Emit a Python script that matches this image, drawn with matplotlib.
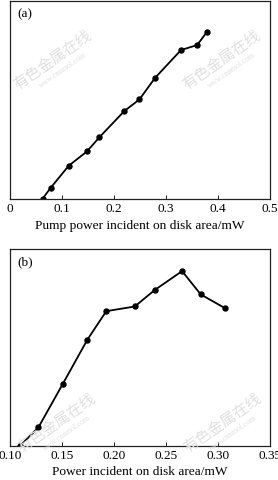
import numpy as np
import matplotlib
matplotlib.use('Agg')
import matplotlib.pyplot as plt

plt.rcParams['font.family'] = ['Liberation Serif', 'DejaVu Serif']

# panel (a)
a_x = [0.063, 0.078, 0.113, 0.148, 0.172, 0.220, 0.249, 0.279, 0.329, 0.360, 0.379]
a_y = [0.2, 3.4, 10.1, 14.4, 18.7, 26.6, 30.1, 36.6, 45.0, 46.5, 50.5]
a_ticks = [0, 0.1, 0.2, 0.3, 0.4, 0.5]
a_labels = ['0', '0.1', '0.2', '0.3', '0.4', '0.5']

# panel (b)
b_x = [0.1097, 0.1274, 0.1506, 0.1745, 0.1926, 0.220, 0.239, 0.2655, 0.2835, 0.3068]
b_y = [0.0, 5.6, 18.5, 31.9, 40.4, 41.8, 46.7, 52.4, 45.4, 41.3]
b_ticks = [0.10, 0.15, 0.20, 0.25, 0.30, 0.35]
b_labels = ['0.10', '0.15', '0.20', '0.25', '0.30', '0.35']

fig = plt.figure(figsize=(2.78, 4.80), dpi=100)

ax1 = fig.add_axes([0.036, 0.585, 0.935, 0.413])
ax1.plot(a_x, a_y, color='black', lw=1.3, marker='o', ms=3.6)
ax1.set_xlim(0, 0.5)
ax1.set_ylim(0, 59.8)
ax1.set_xticks(a_ticks)
ax1.set_xticklabels(a_labels)
ax1.set_yticks([])
ax1.set_xlabel('Pump power incident on disk area/mW', fontsize=9.6, labelpad=3)
ax1.text(0.03, 0.965, '(a)', transform=ax1.transAxes, fontsize=9.5, va='top')

ax2 = fig.add_axes([0.036, 0.071, 0.935, 0.410])
ax2.plot(b_x, b_y, color='black', lw=1.3, marker='o', ms=3.6)
ax2.set_xlim(0.10, 0.35)
ax2.set_ylim(0, 59)
ax2.set_xticks(b_ticks)
ax2.set_xticklabels(b_labels)
ax2.set_yticks([])
ax2.set_xlabel('Power incident on disk area/mW', fontsize=9.6, labelpad=3)
ax2.text(0.03, 0.965, '(b)', transform=ax2.transAxes, fontsize=9.5, va='top')

for ax in (ax1, ax2):
    ax.tick_params(axis='x', direction='in', length=3, width=0.6, labelsize=9.5, pad=3)
    for s in ax.spines.values():
        s.set_linewidth(0.9)
        s.set_color('#222222')

# watermarks
for (wx, wy) in [(53, 60), (222, 60), (57, 423), (223, 423)]:
    fx, fy = wx / 278, 1 - wy / 480
    fig.text(fx, fy, '有色金属在线', family=['Noto Sans CJK SC', 'DejaVu Sans'],
             fontsize=11, color='#e0e0e0', rotation=35, ha='center', va='center')
    fig.text(fx + 0.035, fy - 0.022, 'www.cnnmol.com', fontsize=5.5, color='#e0e0e0',
             rotation=35, ha='center', va='center')

fig.savefig('out.png', dpi=100)
